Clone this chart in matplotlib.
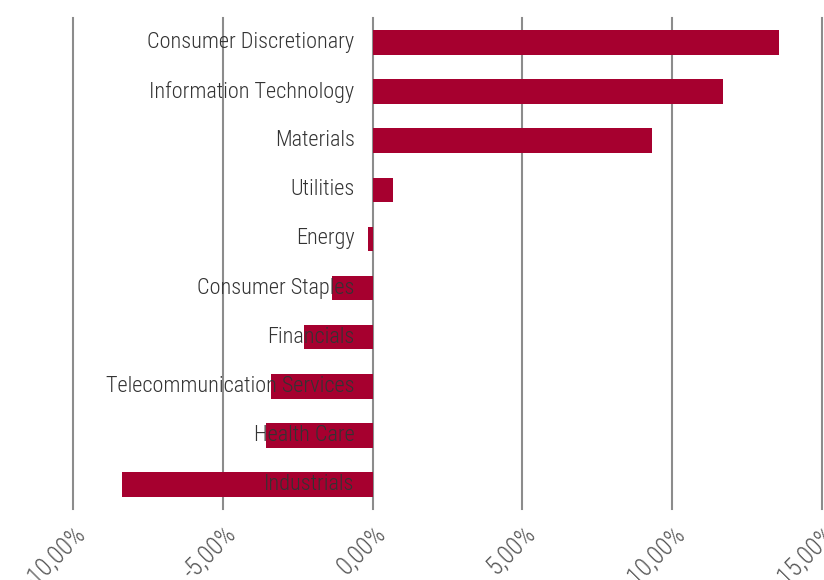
import matplotlib.pyplot as plt
from matplotlib import font_manager

sectors = [
    "Consumer Discretionary",
    "Information Technology",
    "Materials",
    "Utilities",
    "Energy",
    "Consumer Staples",
    "Financials",
    "Telecommunication Services",
    "Health Care",
    "Industrials",
]
returns = [13.58, 11.68, 9.31, 0.67, -0.17, -1.34, -2.30, -3.40, -3.57, -8.38]
ticks = [-10, -5, 0, 5, 10, 15]
tick_labels = ["-10,00%", "-5,00%", "0,00%", "5,00%", "10,00%", "15,00%"]

# narrow light face if one is around, else Roboto
names = {f.name for f in font_manager.fontManager.ttflist}
candidates = ["Roboto Condensed", "Liberation Sans Narrow", "PT Sans Narrow", "Roboto"]
face = next((c for c in candidates if c in names), "DejaVu Sans")
plt.rcParams["font.family"] = [face, "DejaVu Sans"]

fig = plt.figure(figsize=(8.24, 5.8), dpi=100)
ax = fig.add_axes([73 / 824, 1 - 509 / 580, (822 - 73) / 824, 491 / 580])

ypos = list(range(len(sectors)))
ax.barh(ypos, returns, height=0.5, color="#A6002F", zorder=2)

for x in ticks:
    ax.axvline(x, color="#8c8c8c", linewidth=1.5, zorder=1, clip_on=False)

for y, name in zip(ypos, sectors):
    ax.annotate(name, xy=(0, y), xytext=(-18, 0), textcoords="offset pixels",
                ha="right", va="center", fontsize=16, fontweight="light",
                color="#333333", zorder=3)

ax.set_xlim(-10, 15)
ax.set_ylim(len(sectors) - 0.5, -0.5)
ax.set_yticks([])
ax.set_xticks(ticks)
ax.set_xticklabels(tick_labels, rotation=45, ha="right", rotation_mode="anchor",
                   fontsize=18, fontweight="light", color="#555555")
ax.tick_params(axis="x", length=0, pad=9)
for s in ax.spines.values():
    s.set_visible(False)

fig.savefig("out.png", dpi=100)
